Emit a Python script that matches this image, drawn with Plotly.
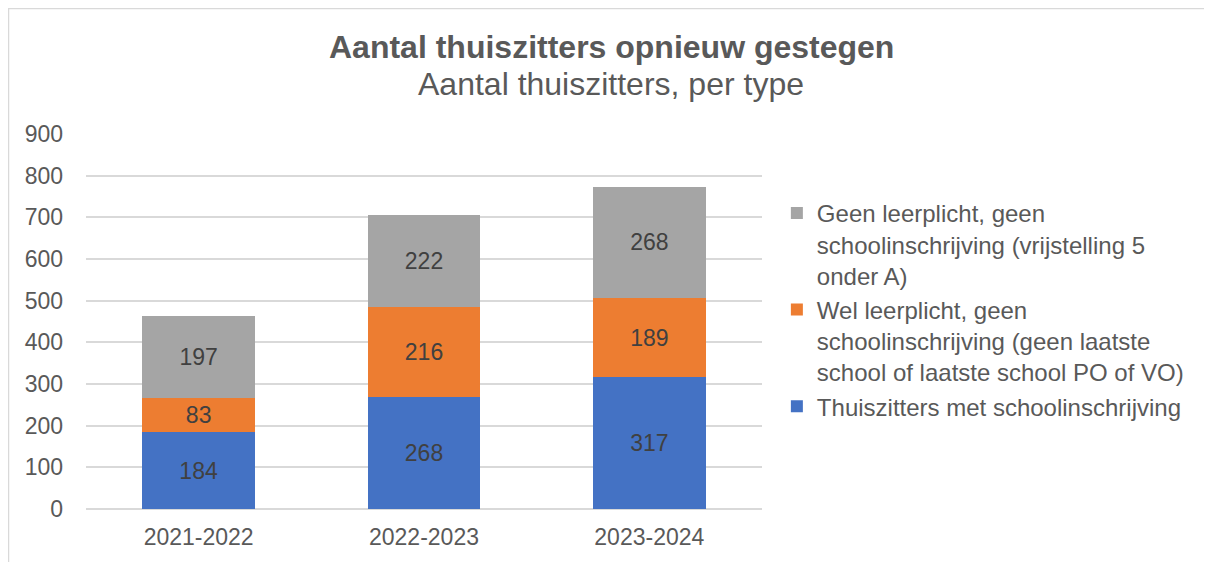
import plotly.graph_objects as go

# schooljaren en aantallen per type thuiszitter
jaren = ["2021-2022", "2022-2023", "2023-2024"]
met_inschrijving = [184, 268, 317]
wel_leerplicht = [83, 216, 189]
geen_leerplicht = [197, 222, 268]

namen = [
    "Thuiszitters met schoolinschrijving",
    "Wel leerplicht, geen<br>schoolinschrijving (geen laatste<br>school of laatste school PO of VO)",
    "Geen leerplicht, geen<br>schoolinschrijving (vrijstelling 5<br>onder A)",
]
kleuren = ["#4472c4", "#ed7d31", "#a5a5a5"]

FONT = "Liberation Sans, Arial, sans-serif"
GREY = "#595959"

fig = go.Figure()
for naam, waarden, kleur in zip(namen, [met_inschrijving, wel_leerplicht, geen_leerplicht], kleuren):
    fig.add_bar(
        x=jaren,
        y=waarden,
        name=naam,
        marker=dict(color=kleur, line=dict(width=0)),
        text=waarden,
        textposition="inside",
        insidetextanchor="middle",
        textangle=0,
        constraintext="none",
        textfont=dict(size=23, color="#404040", family=FONT),
    )

# pagina heeft 8px body-marge, dus figuur iets kleiner
fig.update_layout(
    barmode="stack",
    bargap=0.5,
    width=1204,
    height=554,
    margin=dict(l=78, r=450, t=126, b=53),
    paper_bgcolor="white",
    plot_bgcolor="white",
    font=dict(family=FONT, color=GREY, size=23),
    showlegend=True,
    legend=dict(
        x=1.022,
        y=0.531,
        xanchor="left",
        yanchor="middle",
        valign="top",
        traceorder="reversed",
        font=dict(size=24, color=GREY),
        tracegroupgap=8,
        bgcolor="rgba(0,0,0,0)",
    ),
    xaxis=dict(
        showgrid=False, showline=False, ticks="",
        tickfont=dict(size=23, color=GREY),
        ticklabelstandoff=12,
    ),
    yaxis=dict(
        range=[0, 900],
        dtick=100,
        showgrid=True,
        gridcolor="#d9d9d9",
        gridwidth=1.5,
        zeroline=True,
        zerolinecolor="#d9d9d9",
        zerolinewidth=1.5,
        tickfont=dict(size=23, color=GREY),
        ticklabelstandoff=22,
    ),
    annotations=[
        dict(
            text="<b>Aantal thuiszitters opnieuw gestegen</b>",
            x=(611 - 86) / 676, y=(509 - 47) / 375, xref="paper", yref="paper",
            xanchor="center", yanchor="middle", showarrow=False,
            font=dict(size=32, color=GREY),
        ),
        dict(
            text="Aantal thuiszitters, per type",
            x=(611 - 86) / 676, y=(509 - 84) / 375, xref="paper", yref="paper",
            xanchor="center", yanchor="middle", showarrow=False,
            font=dict(size=32, color=GREY),
        ),
    ],
    shapes=[
        dict(
            type="rect", xref="paper", yref="paper",
            x0=(8.5 - 86) / 676, x1=1.8, y0=-0.3, y1=(509 - 8.5) / 375,
            line=dict(color="#d9d9d9", width=1.5),
        )
    ],
)

fig.write_html("out.html")
